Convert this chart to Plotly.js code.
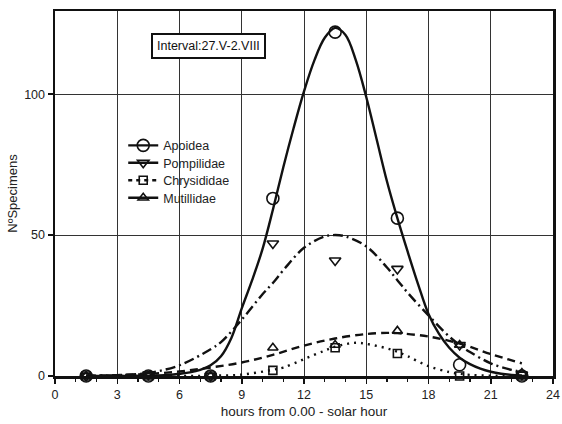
<!DOCTYPE html>
<html>
<head>
<meta charset="utf-8">
<script src="https://cdn.plot.ly/plotly-3.0.1.min.js"></script>
<style>html,body{margin:0;padding:0;background:#fff;}#chart{width:562px;height:424px;}</style>
</head>
<body>
<div id="chart"></div>
<script>
// Observed samples (hour of day, specimen counts)
const hours = [1.5, 4.5, 7.5, 10.5, 13.5, 16.5, 19.5, 22.5];
const apoidea = [0, 0, 0, 63, 122, 56, 4, 0];
const pompilidae = [0, 0.5, 0, 47, 41, 38, 11, 0.5];
const chrysididae = [0, 0, 0, 2, 10, 8, 0, 0];
const mutillidae = [0, 0, 0, 10, 11, 16, 11, 1];

// Fitted curves
const apoFitX = [1.5,3,4.5,5,5.5,6,6.5,7,7.5,8,8.5,9,9.5,10,10.5,11,11.5,12,12.5,13,13.5,14,14.5,15,15.5,16,16.5,17,17.5,18,18.5,19,19.5,20,20.5,21,21.5,22,22.5];
const apoFitY = [0,0,0.1,0.2,0.4,0.8,1.3,2.2,3.8,7,13.5,24,34,45,59,74,88,101,112,120,123.5,121,112,99,84,69,56,44,32.5,22,15,10,6.5,4.2,2.6,1.5,0.8,0.4,0.2];
const pomFitX = [1.5,3,4.5,6,7.5,8,9,10,10.5,11,12,13,13.5,14,15,16,16.5,17,18,19,19.5,20,21,22,22.5];
const pomFitY = [0.1,0.3,1.1,3.8,9.5,12,20,29,33,37.5,45.5,49.5,50,49.5,46,38.5,34,29.5,21.5,14,11,8.5,4.5,2.2,1.5];
const chrFitX = [1.5,4.5,6,7.5,9,10.5,11,12,13,13.5,14,14.5,15,16,16.5,17,18,19,19.5,20,21,22.5];
const chrFitY = [0,0,0,0.1,0.5,2.2,3,6,9,10.4,11.3,11.8,11.4,9.8,8.6,7,3.5,1.4,0.8,0.4,0.1,0];
const mutFitX = [1.5,3,4.5,6,7.5,9,10.5,12,13.5,15,16,16.5,18,19.5,21,22.5];
const mutFitY = [0.1,0.3,0.7,1.6,3,4.8,7.5,10.8,13.3,14.9,15.3,15.2,14,11.5,7.8,4.5];

const seriesNames = ['Apoidea', 'Pompilidae', 'Chrysididae', 'Mutillidae'];
const xTitle = 'hours from 0.00 - solar hour';
const yTitle = 'NºSpecimens';
const boxText = 'Interval:27.V-2.VIII';

// isolate points with nulls so the legend shows a line+marker while no segments are drawn
function isolate(arr) {
  const out = [];
  arr.forEach((v, i) => { if (i) out.push(null); out.push(v); });
  return out;
}

const FONT = 'Liberation Sans, Arial, sans-serif';
const INK = '#111';

function fit(x, y, dash) {
  return {x: x, y: y, type: 'scatter', mode: 'lines', showlegend: false,
    line: {color: INK, width: 2.4, dash: dash, shape: 'spline', smoothing: 1}, hoverinfo: 'skip'};
}
function pts(name, y, symbol, size, legDash) {
  return {x: isolate(hours), y: isolate(y), name: name, type: 'scatter', mode: 'lines+markers',
    connectgaps: false, cliponaxis: false,
    line: {color: INK, width: 2.4, dash: legDash},
    marker: {symbol: symbol, size: size, color: INK, line: {color: INK, width: 1.6}}};
}

const data = [
  fit(apoFitX, apoFitY, 'solid'),
  fit(pomFitX, pomFitY, '10px,4px,2px,4px'),
  fit(chrFitX, chrFitY, '2px,5px'),
  fit(mutFitX, mutFitY, '8px,5px'),
  pts(seriesNames[0], apoidea, 'circle-open', 12, 'solid'),
  pts(seriesNames[1], pompilidae, 'triangle-down-open', 10, 'solid'),
  pts(seriesNames[2], chrysididae, 'square-open', 8, '4px,4px'),
  pts(seriesNames[3], mutillidae, 'triangle-up-open', 9, 'solid')
];

const layout = {
  width: 562, height: 424,
  margin: {l: 55, r: 9, t: 11, b: 48},
  paper_bgcolor: '#fff', plot_bgcolor: '#fff',
  font: {family: FONT, color: '#222', size: 12},
  showlegend: true,
  legend: {x: 0.137, y: 0.672, xanchor: 'left', yanchor: 'top', bgcolor: 'rgba(0,0,0,0)',
    font: {family: FONT, size: 12.5, color: '#222'}, itemwidth: 30, tracegroupgap: 0,
    traceorder: 'normal', entrywidth: 80},
  xaxis: {
    range: [0, 24], tick0: 0, dtick: 3, ticks: 'outside', ticklen: 5, tickwidth: 1.5, tickcolor: INK,
    showline: true, mirror: true, linewidth: 2.5, linecolor: INK,
    showgrid: true, gridcolor: '#333', gridwidth: 1, zeroline: false,
    minor: {dtick: 1, ticks: 'outside', ticklen: 3, tickwidth: 1.2, tickcolor: INK, showgrid: false},
    tickfont: {family: FONT, size: 12.5, color: '#222'},
    title: {text: xTitle, font: {family: FONT, size: 13.5, color: '#222'}, standoff: 6},
    automargin: false
  },
  yaxis: {
    range: [0, 129.5], tick0: 0, dtick: 50, ticks: 'outside', ticklen: 5, tickwidth: 1.5, tickcolor: INK,
    showline: true, mirror: true, linewidth: 2.5, linecolor: INK,
    showgrid: true, gridcolor: '#333', gridwidth: 1, zeroline: false,
    tickfont: {family: FONT, size: 12.5, color: '#222'},
    title: {text: yTitle, font: {family: FONT, size: 13, color: '#222'}, standoff: 4},
    automargin: false
  },
  annotations: [{
    text: boxText, xref: 'paper', yref: 'paper', x: 0.309, y: 0.903,
    xanchor: 'center', yanchor: 'middle', showarrow: false,
    font: {family: FONT, size: 12.5, color: '#111'},
    bordercolor: INK, borderwidth: 2, borderpad: 4, bgcolor: '#fff'
  }]
};

Plotly.newPlot('chart', data, layout, {staticPlot: true, displayModeBar: false}).then(function () {
  // tighten legend row spacing to match the reference
  const rows = document.querySelectorAll('.legend .traces');
  rows.forEach(function (g, i) {
    const t = g.getAttribute('transform') || '';
    const m = t.match(/translate\(([-\d.]+),\s*([-\d.]+)\)/);
    if (m) g.setAttribute('transform', 'translate(' + m[1] + ',' + (parseFloat(m[2]) - i * 1.8) + ')');
  });
});
</script>
</body>
</html>
